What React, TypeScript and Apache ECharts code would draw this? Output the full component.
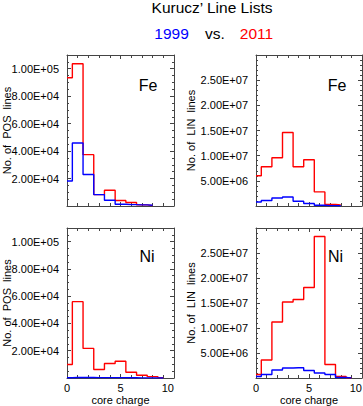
import React, { useEffect, useRef } from "react";
import * as echarts from "echarts";

const coreCharge = [0, 1, 2, 3, 4, 5, 6, 7, 8, 9];

// Fe, POS lines
const fePos1999 = [18200, 45900, 23000, 8300, 4200, 1300, 1000, 800, 600];
const fePos2011 = [93400, 103600, 37400, 8300, 11500, 4000, 2500, 800, 300];
// Fe, LIN lines
const feLin1999 = [800000, 1100000, 1600000, 1800000, 950000, 500000, 150000, 80000, 50000];
const feLin2011 = [6000000, 7800000, 9600000, 14600000, 7800000, 9200000, 2800000, 300000, 200000];
// Ni, POS lines
const niPos1999 = [200, 400, 400, 300, 300, 300, 200, 100, 100, 50];
const niPos2011 = [9900, 56000, 21700, 6200, 10600, 12300, 4200, 2000, 1000, 300];
// Ni, LIN lines
const niLin1999 = [300000, 700000, 1600000, 2000000, 2050000, 1500000, 1000000, 700000, 100000, 20000];
const niLin2011 = [700000, 3600000, 11200000, 15200000, 15700000, 18100000, 28300000, 2700000, 300000, 50000];

const FONT = "'Liberation Sans', Arial, Helvetica, sans-serif";
const RED = "#ff0000";
const BLUE = "#0000ff";
const AXIS = "#444";

function fmt(v: number): string {
  if (v === 0) return "";
  const s = v.toExponential(2).toUpperCase();
  const [m, e] = s.split("E");
  const sign = e[0];
  const d = e.slice(1).padStart(2, "0");
  return m + "E" + sign + d;
}

const toPts = (arr: number[]) => arr.map((v, i) => [coreCharge[i], v]);

type Panel = {
  grid: { left: number; top: number; width: number; height: number };
  max: number;
  interval: number;
  minorSplit: number;
  yName: string;
  nameGap: number;
  bottomRow: boolean;
  red: number[];
  blue: number[];
};

const panels: Panel[] = [
  { grid: { left: 67, top: 55, width: 107, height: 151 }, max: 110000, interval: 20000, minorSplit: 4, yName: "No. of  POS  lines", nameGap: 55, bottomRow: false, red: fePos2011, blue: fePos1999 },
  { grid: { left: 256, top: 55, width: 106, height: 151 }, max: 30000000, interval: 5000000, minorSplit: 5, yName: "No. of  LIN  lines", nameGap: 60, bottomRow: false, red: feLin2011, blue: feLin1999 },
  { grid: { left: 67, top: 228, width: 107, height: 150 }, max: 110000, interval: 20000, minorSplit: 4, yName: "No. of  POS  lines", nameGap: 55, bottomRow: true, red: niPos2011, blue: niPos1999 },
  { grid: { left: 256, top: 228, width: 106, height: 150 }, max: 30000000, interval: 5000000, minorSplit: 5, yName: "No. of  LIN  lines", nameGap: 60, bottomRow: true, red: niLin2011, blue: niLin1999 },
];

export default function App() {
  const ref = useRef<HTMLDivElement>(null);
  useEffect(() => {
    if (!ref.current) return;
    const chart = echarts.init(ref.current, null, { renderer: "svg" });
    const grid: any[] = [];
    const xAxis: any[] = [];
    const yAxis: any[] = [];
    const series: any[] = [];
    panels.forEach((p, i) => {
      grid.push({ ...p.grid, containLabel: false, outerBoundsMode: "none" });
      const xBase = {
        gridIndex: i,
        type: "value",
        min: 0,
        max: 10,
        interval: 5,
        splitLine: { show: false },
        axisLine: { show: true, onZero: false, lineStyle: { color: AXIS, width: 1 } },
        axisTick: { show: true, inside: true, length: 4, lineStyle: { color: AXIS } },
        minorTick: { show: true, splitNumber: 5, length: 3, lineStyle: { color: AXIS } },
      };
      xAxis.push({
        ...xBase,
        position: "bottom",
        axisLabel: {
          show: p.bottomRow,
          color: "#000",
          fontFamily: FONT,
          fontSize: 11,
          margin: 4,
          alignMaxLabel: "right",
        },
        name: p.bottomRow ? "core charge" : "",
        nameLocation: "middle",
        nameGap: 16,
        nameTextStyle: { color: "#000", fontFamily: FONT, fontSize: 11 },
      });
      xAxis.push({ ...xBase, position: "top", axisLabel: { show: false } });
      const yBase = {
        gridIndex: i,
        type: "value",
        min: 0,
        max: p.max,
        interval: p.interval,
        splitLine: { show: false },
        axisLine: { show: true, onZero: false, lineStyle: { color: AXIS, width: 1 } },
        axisTick: { show: true, inside: true, length: 4, lineStyle: { color: AXIS } },
        minorTick: { show: true, splitNumber: p.minorSplit, length: 2, lineStyle: { color: AXIS } },
      };
      yAxis.push({
        ...yBase,
        position: "left",
        axisLabel: {
          show: true,
          color: "#000",
          fontFamily: FONT,
          fontSize: 11,
          margin: 8,
          showMinLabel: false,
          showMaxLabel: false,
          formatter: (v: number) => fmt(v),
        },
        name: p.yName,
        nameLocation: "middle",
        nameGap: p.nameGap,
        nameRotate: 90,
        nameMoveOverlap: false,
        nameTruncate: { maxWidth: 400 },
        nameTextStyle: { color: "#000", fontFamily: FONT, fontSize: 11, width: 300, overflow: "none" },
      });
      yAxis.push({ ...yBase, position: "right", axisLabel: { show: false } });
      series.push({
        type: "line",
        step: "middle",
        xAxisIndex: i * 2,
        yAxisIndex: i * 2,
        symbol: "none",
        data: toPts(p.red),
        lineStyle: { color: RED, width: 1.4 },
        itemStyle: { color: RED },
      });
      series.push({
        type: "line",
        step: "middle",
        xAxisIndex: i * 2,
        yAxisIndex: i * 2,
        symbol: "none",
        data: toPts(p.blue),
        lineStyle: { color: BLUE, width: 1.4 },
        itemStyle: { color: BLUE },
      });
    });

    const txt = (x: number, y: number, text: string, size: number, color = "#000") => ({
      type: "text",
      x,
      y,
      style: {
        text,
        fill: color,
        font: `${size}px ${FONT}`,
        align: "center",
        verticalAlign: "middle",
      },
    });

    chart.setOption({
      animation: false,
      backgroundColor: "#fff",
      grid,
      xAxis,
      yAxis,
      series,
      graphic: [
        txt(212, 7, "Kurucz\u2019 Line Lists", 15.5),
        txt(171.5, 33, "1999", 15.5, BLUE),
        txt(215, 33, "vs.", 15.5),
        txt(256.5, 33, "2011", 15.5, RED),
        txt(148, 85, "Fe", 16),
        txt(337, 85.5, "Fe", 16),
        txt(147, 256.5, "Ni", 16),
        txt(335.5, 256.5, "Ni", 16),
      ],
    });
    return () => chart.dispose();
  }, []);
  return (
    <div
      ref={ref}
      style={{ position: "fixed", left: 0, top: 0, width: 363, height: 406 }}
    />
  );
}
